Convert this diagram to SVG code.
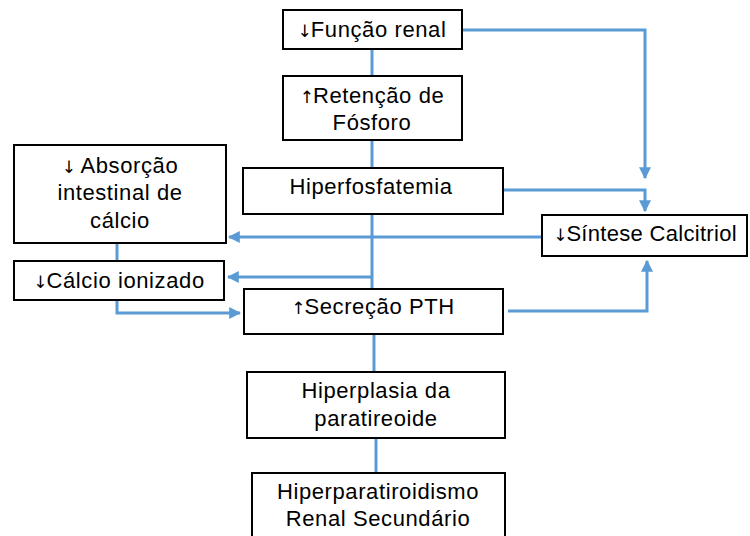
<svg xmlns="http://www.w3.org/2000/svg" width="750" height="536" viewBox="0 0 750 536">
<defs>
<style>
.box{fill:#fff;stroke:#000;stroke-width:2}
.t{font-family:"Liberation Sans",Arial,sans-serif;font-size:22px;letter-spacing:0.6px;fill:#000;text-anchor:middle}
.a{font-family:"DejaVu Sans",sans-serif;font-size:17px;letter-spacing:-1px;fill:#000}
.c{fill:none;stroke:#5B9BD5;stroke-width:3}
</style>
<marker id="ah" viewBox="0 0 10 10" refX="9" refY="5" markerWidth="4" markerHeight="4" orient="auto" markerUnits="strokeWidth">
<path d="M0,0 L10,5 L0,10 z" fill="#5B9BD5"/>
</marker>
</defs>
<rect width="750" height="536" fill="#fff"/>
<g id="connectors">
<line class="c" x1="372" y1="49" x2="372" y2="76"/>
<line class="c" x1="372" y1="140" x2="372" y2="168"/>
<line class="c" x1="372" y1="214" x2="372" y2="289"/>
<line class="c" x1="374" y1="334" x2="374" y2="372"/>
<line class="c" x1="376" y1="438" x2="376" y2="473"/>
<polyline class="c" points="463,30 645,30 645,178" marker-end="url(#ah)"/>
<polyline class="c" points="503,190 645,190 645,211" marker-end="url(#ah)"/>
<polyline class="c" points="542,237 372,237 229,237" marker-end="url(#ah)"/>
<line class="c" x1="372" y1="277" x2="228" y2="277" marker-end="url(#ah)"/>
<line class="c" x1="117" y1="243" x2="117" y2="261"/>
<polyline class="c" points="117,300 117,313 240,313" marker-end="url(#ah)"/>
<polyline class="c" points="508,311 647,311 647,261" marker-end="url(#ah)"/>
</g>
<g id="funcao-renal">
<rect class="box" x="283" y="10" width="179" height="39"/>
<text class="t" x="372" y="37"><tspan class="a">↓</tspan>Função renal</text>
</g>
<g id="retencao-fosforo">
<rect class="box" x="283" y="76" width="179" height="64"/>
<text class="t" x="372" y="103"><tspan class="a">↑</tspan>Retenção de</text>
<text class="t" x="372" y="130">Fósforo</text>
</g>
<g id="hiperfosfatemia">
<rect class="box" x="243" y="168" width="260" height="46"/>
<text class="t" x="371" y="194">Hiperfosfatemia</text>
</g>
<g id="sintese-calcitriol">
<rect class="box" x="542" y="215" width="205" height="41"/>
<text class="t" x="645" y="241" style="letter-spacing:0.3px"><tspan class="a">↓</tspan>Síntese Calcitriol</text>
</g>
<g id="absorcao-calcio">
<rect class="box" x="14" y="145" width="212" height="98"/>
<text class="t" x="120" y="173"><tspan class="a">↓</tspan> Absorção</text>
<text class="t" x="120" y="200">intestinal de</text>
<text class="t" x="120" y="228">cálcio</text>
</g>
<g id="calcio-ionizado">
<rect class="box" x="14" y="261" width="210" height="39"/>
<text class="t" x="119" y="288"><tspan class="a">↓</tspan>Cálcio ionizado</text>
</g>
<g id="secrecao-pth">
<rect class="box" x="244" y="289" width="259" height="45"/>
<text class="t" x="373" y="314"><tspan class="a">↑</tspan>Secreção PTH</text>
</g>
<g id="hiperplasia">
<rect class="box" x="247" y="372" width="258" height="66"/>
<text class="t" x="376" y="398">Hiperplasia da</text>
<text class="t" x="376" y="426">paratireoide</text>
</g>
<g id="hiperparatiroidismo">
<rect class="box" x="252" y="473" width="253" height="70"/>
<text class="t" x="378" y="499">Hiperparatiroidismo</text>
<text class="t" x="378" y="526">Renal Secundário</text>
</g>
</svg>
